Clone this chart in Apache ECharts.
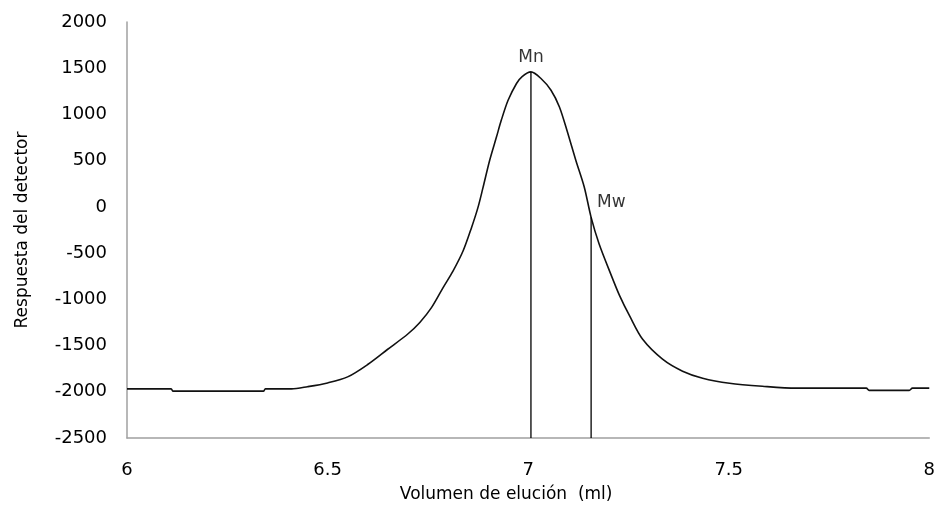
<!DOCTYPE html>
<html>
<head>
<meta charset="utf-8">
<script src="https://cdn.jsdelivr.net/npm/echarts@6/dist/echarts.min.js"></script>
<style>html,body{margin:0;padding:0;background:#fff}#c{width:938px;height:529px}</style>
</head>
<body>
<div id="c"></div>
<script>
const volumen = [6.00,6.05,6.11,6.115,6.20,6.30,6.34,6.345,6.41,6.45,6.50,6.55,6.60,6.65,6.70,6.73,6.759,6.788,6.813,6.838,6.859,6.875,6.887,6.904,6.921,6.933,6.950,6.971,6.985,7.007,7.032,7.057,7.078,7.098,7.119,7.140,7.157,7.177,7.206,7.228,7.253,7.285,7.335,7.385,7.435,7.502,7.584,7.668,7.75,7.843,7.85,7.95,7.958,8.00];
const respuesta = [-1969,-1969,-1969,-1993,-1993,-1993,-1993,-1969,-1969,-1945,-1904,-1839,-1705,-1540,-1375,-1250,-1090,-873,-692,-475,-222,-5,200,502,755,936,1153,1335,1410,1460,1389,1262,1081,809,502,213,-113,-402,-727,-960,-1180,-1430,-1647,-1777,-1853,-1907,-1940,-1961,-1961,-1961,-1985,-1985,-1961,-1961];
const marcadores = ['Mn','Mw'];
const marcadorX = [7.007, 7.157];
const marcadorY = [1460, -113];
const yMin = -2500, yMax = 2000, yStep = 500;
const xMin = 6, xMax = 8, xStep = 0.5;

const font = 'DejaVu Sans';
const chart = echarts.init(document.getElementById('c'));
const curve = volumen.map((v,i)=>[v, respuesta[i]]);
const markerSeries = marcadores.map((name,i)=>({
  type:'line', name, symbol:'none', silent:true,
  lineStyle:{color:'#000', width:1.3},
  data:[[marcadorX[i], yMin],[marcadorX[i], marcadorY[i]]]
}));
const labelSeries = {
  type:'scatter', symbolSize:0, silent:true,
  data: marcadores.map((name,i)=>({
    value:[marcadorX[i], marcadorY[i], name],
    label:{position: i===0 ? 'top' : [6,-23], distance:6}
  })),
  label:{show:true, formatter:p=>p.value[2], color:'#000', fontFamily:font, fontSize:17}
};
chart.setOption({
  animation:false,
  grid:{left:127, right:8, top:22, bottom:91},
  xAxis:{
    type:'value', min:xMin, max:xMax, interval:xStep,
    name:'Volumen de elución  (ml)', nameLocation:'middle', nameGap:48,
    nameTextStyle:{color:'#000', fontFamily:font, fontSize:17, padding:[0,44,0,0]},
    axisLine:{onZero:false, lineStyle:{color:'#a0a0a0', width:1.5}},
    axisTick:{show:false}, splitLine:{show:false},
    axisLabel:{color:'#000', fontFamily:font, fontSize:18, margin:23}
  },
  yAxis:{
    type:'value', min:yMin, max:yMax, interval:yStep,
    name:'Respuesta del detector', nameLocation:'middle', nameGap:96,
    nameTextStyle:{color:'#000', fontFamily:font, fontSize:17},
    axisLine:{show:true, lineStyle:{color:'#a0a0a0', width:1.5}},
    axisTick:{show:false}, splitLine:{show:false},
    axisLabel:{color:'#000', fontFamily:font, fontSize:18, margin:20, formatter:v=>String(v)}
  },
  series:[
    {type:'line', name:'curva', symbol:'none', smooth:0.3, data:curve,
     lineStyle:{color:'#111', width:1.6}},
    ...markerSeries,
    labelSeries
  ]
});
</script>
</body>
</html>
